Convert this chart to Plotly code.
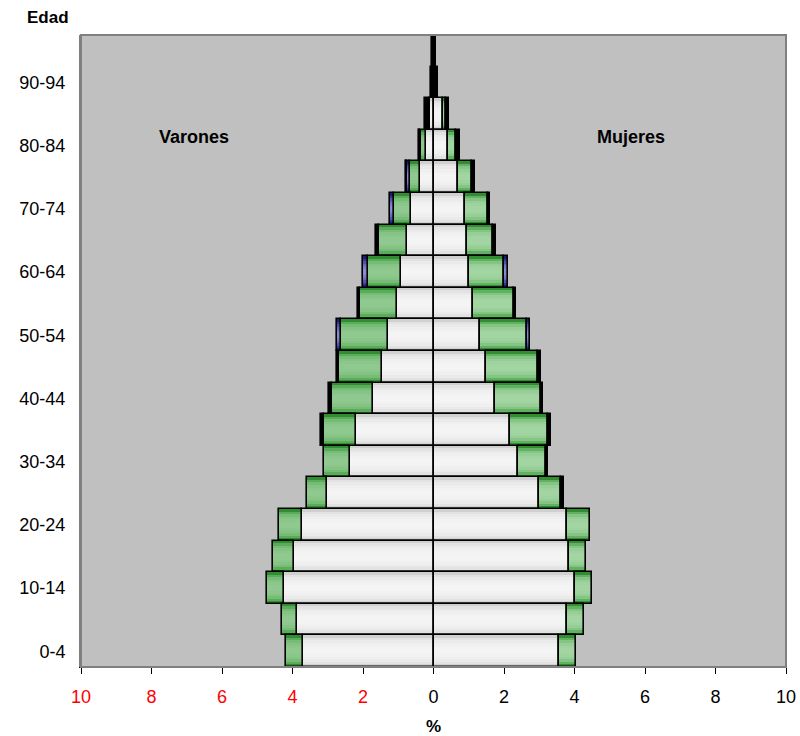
import plotly.graph_objects as go

ages = ["0-4", "5-9", "10-14", "15-19", "20-24", "25-29", "30-34", "35-39",
        "40-44", "45-49", "50-54", "55-59", "60-64", "65-69", "70-74",
        "75-79", "80-84", "85-89", "90-94", "95-99"]

# Varones (%), four stacked components from the centre outwards
men_white = [3.71, 3.87, 4.23, 3.96, 3.74, 3.01, 2.36, 2.19, 1.72, 1.46,
             1.29, 1.03, 0.92, 0.75, 0.63, 0.38, 0.22, 0.09, 0.0, 0.0]
men_green = [0.47, 0.43, 0.50, 0.60, 0.64, 0.58, 0.74, 0.91, 1.15, 1.21,
             1.33, 1.05, 0.95, 0.80, 0.49, 0.28, 0.15, 0.0, 0.0, 0.0]
men_blue = [0, 0, 0, 0, 0, 0, 0, 0, 0, 0,
            0.12, 0, 0.12, 0, 0.12, 0.10, 0, 0, 0, 0]
men_black = [0, 0, 0, 0, 0, 0, 0, 0.08, 0.10, 0.08,
             0, 0.07, 0, 0.08, 0, 0.02, 0.03, 0.15, 0.085, 0.04]

# Mujeres (%)
women_white = [3.57, 3.79, 4.00, 3.84, 3.78, 2.99, 2.40, 2.18, 1.75, 1.48,
               1.32, 1.12, 1.00, 0.95, 0.90, 0.69, 0.41, 0.26, 0.0, 0.0]
women_green = [0.47, 0.47, 0.49, 0.49, 0.65, 0.63, 0.79, 1.07, 1.29, 1.49,
               1.33, 1.15, 1.01, 0.74, 0.64, 0.40, 0.24, 0.10, 0.0, 0.0]
women_blue = [0, 0, 0, 0, 0, 0, 0, 0, 0, 0,
              0.09, 0, 0.11, 0, 0, 0, 0, 0, 0, 0]
women_black = [0, 0, 0, 0, 0, 0.07, 0.06, 0.07, 0.07, 0.07,
               0, 0.08, 0, 0.08, 0.07, 0.10, 0.09, 0.07, 0.12, 0.06]

tick_vals_x = [-10, -8, -6, -4, -2, 0, 2, 4, 6, 8, 10]
tick_text_x = ['<span style="color:#ff0000">10</span>',
               '<span style="color:#ff0000">8</span>',
               '<span style="color:#ff0000">6</span>',
               '<span style="color:#ff0000">4</span>',
               '<span style="color:#ff0000">2</span>',
               "0", "2", "4", "6", "8", "10"]
y_labels = ["0-4", "10-14", "20-24", "30-34", "40-44", "50-54",
            "60-64", "70-74", "80-84", "90-94"]

WHITE = ["#d0d0d0", "#e2e2e2", "#eaeaea", "#efefef", "#f2f2f2", "#f4f4f4"]
GREEN_M = ["#308e30", "#5aab5a", "#76bb76", "#84c384", "#8bc78b", "#8fc98f"]
GREEN_W = ["#308e30", "#62b062", "#84c484", "#96ce96", "#9ed29e", "#a3d5a3"]
BLUE = ["#1c1c7c", "#34349c", "#5252ae", "#6a6abc", "#7c7cc6", "#8a8ad0"]
BLACK = ["#000000"] * 6
LAYER_W = [1.0, 0.84, 0.68, 0.52, 0.36, 0.2]

fig = go.Figure()


def add_side(series_list, sign):
    cum = [0.0] * len(ages)
    for vals, cols in series_list:
        xs = [sign * v if v > 0 else None for v in vals]
        bases = [sign * c for c in cum]
        for w, c in zip(LAYER_W, cols):
            fig.add_trace(go.Bar(
                y=list(range(len(ages))), x=xs, base=bases, orientation="h",
                width=w, marker=dict(color=c, line=dict(width=0)),
                showlegend=False, hoverinfo="skip"))
        fig.add_trace(go.Bar(
            y=list(range(len(ages))), x=xs, base=bases, orientation="h",
            width=1.0,
            marker=dict(color="rgba(0,0,0,0)",
                        line=dict(width=1.6, color="#000000")),
            showlegend=False, hoverinfo="skip"))
        cum = [a + b for a, b in zip(cum, vals)]


add_side([(men_white, WHITE), (men_green, GREEN_M),
          (men_blue, BLUE), (men_black, BLACK)], -1)
add_side([(women_white, WHITE), (women_green, GREEN_W),
          (women_blue, BLUE), (women_black, BLACK)], 1)

FONT = "Arial, Liberation Sans, sans-serif"

fig.update_layout(
    width=800, height=736,
    margin=dict(l=81, r=14, t=35, b=69),
    barmode="overlay", bargap=0,
    plot_bgcolor="#c0c0c0", paper_bgcolor="#ffffff",
    font=dict(family=FONT, size=18, color="#000000"),
    xaxis=dict(range=[-10, 10], tickvals=tick_vals_x, ticktext=tick_text_x,
               showgrid=False, zeroline=True, zerolinecolor="#000000",
               zerolinewidth=2, showline=True, linecolor="#000000",
               linewidth=1, mirror=False, ticks="outside", ticklen=6,
               tickcolor="#000000", tickfont=dict(size=18),
               ticklabelstandoff=7, automargin=False,
               title=dict(text="<b>%</b>", font=dict(size=17), standoff=20)),
    yaxis=dict(range=[-0.5, 19.5], tickmode="array",
               tickvals=[ages.index(a) for a in y_labels], ticktext=y_labels,
               showgrid=False, zeroline=False, showline=True,
               linecolor="#808080", linewidth=2, ticks="",
               tickfont=dict(size=18), ticklabelstandoff=10,
               automargin=False),
    shapes=[dict(type="rect", xref="paper", yref="paper", x0=0, x1=1,
                 y0=0, y1=1, line=dict(color="#808080", width=2),
                 fillcolor="rgba(0,0,0,0)", layer="above")],
    annotations=[
        dict(text="<b>Edad</b>", xref="paper", yref="paper",
             x=-0.047, y=1.027, showarrow=False, xanchor="center",
             yanchor="middle", font=dict(size=17)),
        dict(text="<b>Varones</b>", xref="x", yref="y", x=-6.8, y=16.28,
             showarrow=False, xanchor="center", yanchor="middle",
             font=dict(size=18)),
        dict(text="<b>Mujeres</b>", xref="x", yref="y", x=5.6, y=16.28,
             showarrow=False, xanchor="center", yanchor="middle",
             font=dict(size=18)),
    ],
)

fig.write_html("out.html",
               config={"displayModeBar": False},
               post_script="document.body.style.margin='0px';"
                           "document.body.style.overflow='hidden';")
